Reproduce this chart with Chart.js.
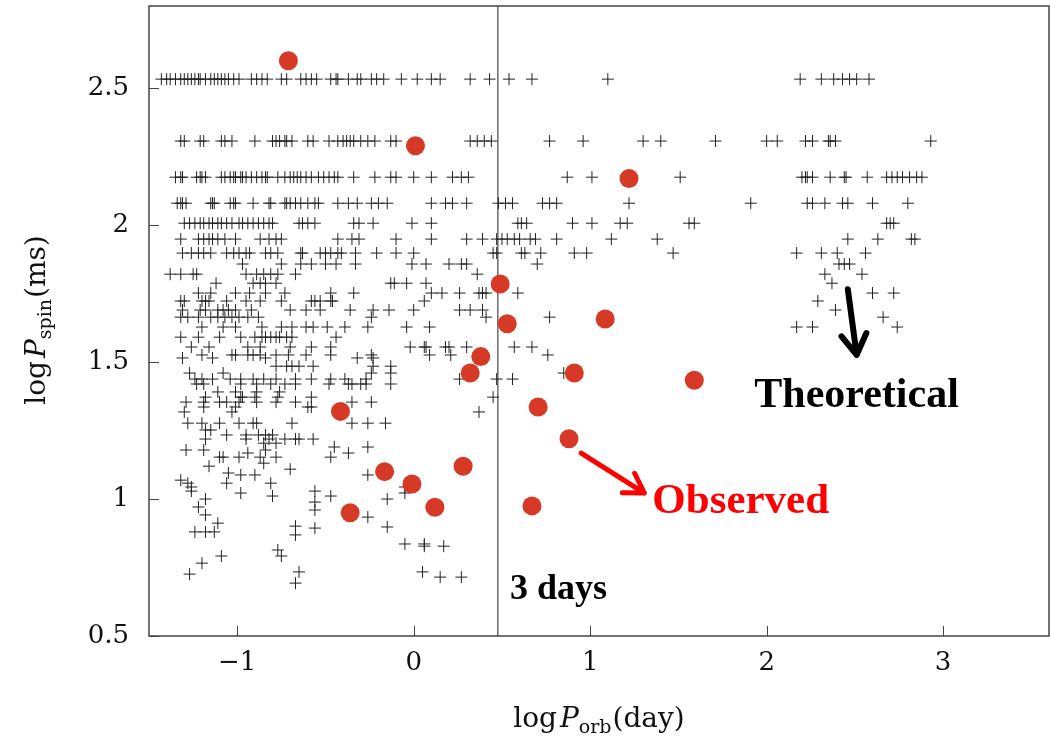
<!DOCTYPE html>
<html>
<head>
<meta charset="utf-8">
<script src="https://cdn.jsdelivr.net/npm/chart.js@4.4.0/dist/chart.umd.min.js"></script>
<style>
  html, body { margin: 0; padding: 0; background: #fff; }
  canvas { display: block; }
</style>
</head>
<body>
<canvas id="chart" width="1051" height="738"></canvas>
<script>
// x = log P_orb (day), y = log P_spin (ms)
const xTicks = [-1, 0, 1, 2, 3];
const yTicks = [0.5, 1, 1.5, 2, 2.5];
const threeDays = 0.477; // log10(3 days)

// Observed pulsars (red dots)
const obsX = [-0.71, 0.01, 1.22, 0.49, 0.53, 1.085, 0.38, 0.32, 0.91, 1.59, -0.415, 0.705, 0.88, 0.28, -0.165, -0.01, 0.12, -0.36, 0.67];
const obsY = [2.60, 2.29, 2.17, 1.785, 1.64, 1.657, 1.52, 1.46, 1.46, 1.434, 1.32, 1.336, 1.22, 1.12, 1.10, 1.055, 0.97, 0.95, 0.975];

// Theoretical population (crosses), grouped by log P_spin level
const theoLevels = [
  2.533, 2.307, 2.175, 2.080, 2.007, 1.949, 1.898, 1.858, 1.821, 1.788,
  1.752, 1.723, 1.690, 1.664, 1.628, 1.591, 1.555, 1.526, 1.515, 1.485,
  1.460, 1.438, 1.420, 1.391, 1.372, 1.354, 1.336, 1.318, 1.277, 1.252,
  1.234, 1.219, 1.204, 1.190, 1.179, 1.168, 1.153, 1.131, 1.120, 1.109,
  1.095, 1.088, 1.069, 1.058, 1.044, 1.029, 1.022, 1.011, 1.000, 0.989,
  0.971, 0.960, 0.942, 0.934, 0.912, 0.901, 0.898, 0.894, 0.880, 0.869,
  0.836, 0.828, 0.814, 0.792, 0.766, 0.734, 0.726, 0.715, 0.693
];
const theoRows = [
  [-1.43,-1.40,-1.38,-1.35,-1.32,-1.30,-1.28,-1.26,-1.24,-1.22,-1.21,-1.18,-1.15,-1.13,-1.11,-1.09,-1.07,-1.05,-1.02,-0.99,-0.92,-0.89,-0.86,-0.83,-0.75,-0.72,-0.64,-0.61,-0.58,-0.55,-0.47,-0.44,-0.43,-0.37,-0.32,-0.30,-0.24,-0.21,-0.17,-0.07,0.02,0.10,0.15,0.32,0.43,0.54,0.67,1.10,2.19,2.31,2.38,2.43,2.47,2.51,2.58],
  [-1.32,-1.30,-1.21,-1.19,-1.09,-1.07,-1.03,-0.90,-0.80,-0.78,-0.76,-0.73,-0.72,-0.69,-0.60,-0.57,-0.48,-0.43,-0.40,-0.38,-0.36,-0.34,-0.30,-0.26,-0.22,-0.13,-0.10,0.32,0.36,0.40,0.44,0.77,0.96,1.30,1.40,1.71,2.00,2.06,2.22,2.26,2.35,2.36,2.39,2.93],
  [-1.35,-1.32,-1.31,-1.23,-1.21,-1.20,-1.18,-1.09,-1.07,-1.04,-1.02,-1.01,-0.98,-0.97,-0.95,-0.92,-0.89,-0.86,-0.84,-0.83,-0.77,-0.73,-0.70,-0.68,-0.66,-0.64,-0.61,-0.58,-0.54,-0.51,-0.48,-0.45,-0.43,-0.34,-0.22,-0.13,-0.10,0.00,0.10,0.22,0.27,0.31,0.87,1.01,1.51,2.20,2.22,2.23,2.26,2.36,2.44,2.45,2.57,2.68,2.71,2.74,2.77,2.81,2.85,2.88],
  [-1.34,-1.32,-1.31,-1.29,-1.15,-1.14,-1.13,-1.04,-1.02,-1.01,-0.91,-0.82,-0.81,-0.73,-0.72,-0.70,-0.67,-0.64,-0.60,-0.56,-0.54,-0.43,-0.37,-0.32,-0.24,-0.20,-0.15,0.10,0.18,0.22,0.30,0.48,0.52,0.56,0.73,0.77,0.81,1.22,1.91,2.23,2.26,2.33,2.43,2.46,2.60,2.80],
  [-1.30,-1.27,-1.24,-1.21,-1.19,-1.16,-1.14,-1.11,-1.09,-1.06,-1.03,-0.99,-0.97,-0.94,-0.91,-0.88,-0.85,-0.82,-0.80,-0.65,-0.63,-0.60,-0.56,-0.34,-0.31,-0.23,-0.01,0.10,0.59,0.61,0.64,0.90,1.01,1.17,1.21,1.56,1.59,2.68,2.70,2.72],
  [-1.32,-1.22,-1.19,-1.16,-1.14,-1.11,-1.07,-1.01,-0.87,-0.82,-0.78,-0.75,-0.43,-0.35,-0.31,-0.10,0.10,0.30,0.39,0.47,0.50,0.53,0.57,0.60,0.66,0.69,0.81,1.12,1.38,2.46,2.63,2.82,2.84],
  [-1.31,-1.26,-1.22,-1.19,-1.15,-1.06,-1.02,-0.99,-0.95,-0.93,-0.84,-0.81,-0.77,-0.64,-0.63,-0.53,-0.50,-0.47,-0.43,-0.41,-0.33,-0.21,-0.10,0.00,0.45,0.47,0.61,0.63,0.72,0.91,0.98,1.47,2.17,2.31,2.40,2.56],
  [-0.97,-0.75,-0.64,-0.58,-0.50,-0.44,-0.33,-0.01,0.07,0.20,0.27,0.30,0.70,2.41,2.44,2.47],
  [-1.38,-1.32,-1.25,-1.23,-0.95,-0.89,-0.85,-0.81,-0.77,-0.67,0.36,2.33,2.54],
  [-1.12,-0.91,-0.87,-0.84,-0.78,-0.13,-0.11,-0.04,0.07,2.37],
  [-1.22,-1.15,-1.01,-0.93,-0.84,-0.73,-0.47,-0.34,0.10,0.16,0.26,0.37,0.39,0.41,0.59,2.60,2.72],
  [-1.32,-1.30,-1.20,-1.18,-1.16,-1.06,-0.95,-0.87,-0.75,-0.58,-0.56,-0.53,-0.47,-0.46,0.06,2.29],
  [-1.31,-1.21,-1.18,-1.11,-1.08,-1.05,-1.01,-0.92,-0.70,-0.61,-0.53,-0.36,-0.23,-0.14,0.00,0.26,0.32,0.39,2.39],
  [-1.32,-1.28,-1.22,-1.15,-1.11,-1.07,-1.03,-0.99,-0.94,-0.88,-0.24,0.41,0.77,2.66],
  [-1.20,-1.08,-1.01,-0.86,-0.75,-0.69,-0.61,-0.57,-0.49,-0.39,-0.26,-0.04,0.09,2.17,2.26,2.74],
  [-1.32,-1.22,-1.10,-0.98,-0.90,-0.86,-0.84,-0.81,-0.78,-0.76,-0.72,-0.69,-0.44],
  [-1.26,-1.16,-0.94,-0.87,-0.70,-0.58,-0.47,-0.02,0.06,0.07,0.18,0.20,0.30,0.57,0.67],
  [-1.20,-1.03,-1.01,-0.94,-0.91,-0.87,-0.78,-0.71,-0.61,-0.47,-0.24,0.09,0.21,0.76],
  [-1.31,-1.14,-0.84,-0.32,-0.23],
  [-0.78,-0.72,-0.69,-0.65,-0.57,-0.23,-0.13],
  [-1.27,-1.08,-0.24,-0.13,0.85],
  [-1.24,-1.20,-1.14,-1.04,-0.98,-0.91,-0.85,-0.78,-0.67,-0.58,-0.47,-0.39,-0.27,0.26,0.47,0.56],
  [-1.23,-1.19,-0.98,-0.89,-0.81,-0.73,-0.67,-0.48,-0.37,-0.35,-0.30,-0.27,-0.13],
  [-1.11,-1.01,-0.89,-0.76],
  [-1.18,-0.98,-0.97,-0.90,-0.77,-0.58,0.45],
  [-1.29,-1.19,-1.10,-1.06,-0.99,-0.89,-0.78,-0.67,-0.35,-0.24],
  [-1.19,-1.01,-0.60,-0.58],
  [-1.30,-1.03,0.37],
  [-1.28,-1.20,-1.10,-0.99,-0.91,-0.89,-0.69,-0.35,-0.26,-0.16],
  [-1.18,-1.15],
  [-1.06,-0.95,-0.88,-0.84,-0.80],
  [-1.18,-0.95,-0.82,-0.73,-0.67,-0.65,-0.57],
  [-0.85,-0.78],
  [-0.45,-0.26],
  [-1.29,-1.19,-0.84],
  [-0.94,-0.37],
  [-1.10,-1.08,-0.99,-0.87,-0.78,-0.47],
  [-0.85],
  [-1.16],
  [-0.70],
  [-1.05],
  [-0.98,-0.90,-0.26],
  [-1.32],
  [-1.28,-1.06,-0.81],
  [-1.26,-0.05],
  [-1.26,-0.56],
  [-0.98,-0.05],
  [-0.80,-0.47],
  [-1.18,-0.15],
  [-0.56],
  [-1.22],
  [-0.56],
  [-1.18],
  [-0.26],
  [-1.11],
  [-0.67],
  [-0.15],
  [-0.56],
  [-1.24,-1.18,-1.13],
  [-0.67],
  [-0.05,0.06],
  [0.06,0.17],
  [-0.77],
  [-1.09,-0.75],
  [-1.20],
  [-0.65,0.05],
  [-1.27],
  [0.15,0.27],
  [-0.67]
];

// Build point lists
const theoPoints = [];
theoLevels.forEach((y, i) => theoRows[i].forEach(x => theoPoints.push({ x, y })));
const obsPoints = obsX.map((x, i) => ({ x, y: obsY[i] }));

const serif = "'DejaVu Serif', serif";
const times = "'Liberation Serif', 'Times New Roman', serif";

// Draw a run of text pieces (normal / italic / subscript) centred on cx
function drawRich(ctx, parts, cx, baseY) {
  let w = 0;
  parts.forEach(p => { ctx.font = p.font; w += ctx.measureText(p.t).width + (p.gap || 0); });
  let px = cx - w / 2;
  parts.forEach(p => {
    ctx.font = p.font;
    ctx.fillText(p.t, px, baseY + (p.dy || 0));
    px += ctx.measureText(p.t).width + (p.gap || 0);
  });
}

function drawArrow(ctx, x0, y0, x1, y1, head, width, color) {
  const ang = Math.atan2(y1 - y0, x1 - x0);
  ctx.strokeStyle = color;
  ctx.lineWidth = width;
  ctx.lineCap = "round";
  ctx.lineJoin = "round";
  ctx.beginPath();
  ctx.moveTo(x0, y0);
  ctx.lineTo(x1, y1);
  ctx.moveTo(x1 - head * Math.cos(ang - 0.55), y1 - head * Math.sin(ang - 0.55));
  ctx.lineTo(x1, y1);
  ctx.lineTo(x1 - head * Math.cos(ang + 0.55), y1 - head * Math.sin(ang + 0.55));
  ctx.stroke();
}

// Frame, inward ticks, labels and arrows
const decorations = {
  id: "decorations",
  afterDraw(chart) {
    const { ctx, chartArea: a, scales: { x, y } } = chart;
    ctx.save();

    ctx.strokeStyle = "#444";
    ctx.lineWidth = 1.5;
    ctx.strokeRect(a.left, a.top, a.right - a.left, a.bottom - a.top);

    ctx.lineWidth = 1;
    ctx.beginPath();
    xTicks.forEach(v => {
      const px = Math.round(x.getPixelForValue(v)) + 0.5;
      ctx.moveTo(px, a.bottom); ctx.lineTo(px, a.bottom - 10);
    });
    yTicks.forEach(v => {
      const py = Math.round(y.getPixelForValue(v)) + 0.5;
      ctx.moveTo(a.left, py); ctx.lineTo(a.left + 10, py);
    });
    ctx.stroke();

    // axis titles
    ctx.fillStyle = "#111";
    ctx.textBaseline = "alphabetic";
    drawRich(ctx, [
      { t: "log", font: `28px ${serif}`, gap: 3 },
      { t: "P", font: `italic 28px ${serif}` },
      { t: "orb", font: `19px ${serif}`, dy: 6, gap: 1 },
      { t: "(day)", font: `28px ${serif}` }
    ], (a.left + a.right) / 2, 727);

    ctx.save();
    ctx.translate(45, 320);
    ctx.rotate(-Math.PI / 2);
    drawRich(ctx, [
      { t: "log", font: `28px ${serif}`, gap: 3 },
      { t: "P", font: `italic 28px ${serif}` },
      { t: "spin", font: `19px ${serif}`, dy: 6, gap: 1 },
      { t: "(ms)", font: `28px ${serif}` }
    ], 0, 0);
    ctx.restore();

    // annotations
    ctx.fillStyle = "#000";
    ctx.font = `bold 42px ${times}`;
    ctx.fillText("Theoretical", x.getPixelForValue(1.93), y.getPixelForValue(1.336));
    ctx.font = `bold 36px ${times}`;
    ctx.fillText("3 days", x.getPixelForValue(0.545), y.getPixelForValue(0.635));
    ctx.fillStyle = "#f00";
    ctx.font = `bold 43px ${times}`;
    ctx.fillText("Observed", x.getPixelForValue(1.352), y.getPixelForValue(0.949));

    drawArrow(ctx, x.getPixelForValue(2.46), y.getPixelForValue(1.766),
      x.getPixelForValue(2.51), y.getPixelForValue(1.526), 24, 6, "#000");
    drawArrow(ctx, x.getPixelForValue(0.949), y.getPixelForValue(1.168),
      x.getPixelForValue(1.307), y.getPixelForValue(1.022), 22, 5, "#f00");

    ctx.restore();
  }
};

new Chart(document.getElementById("chart"), {
  type: "scatter",
  data: {
    datasets: [
      {
        label: "Observed",
        data: obsPoints,
        pointStyle: "circle",
        pointRadius: 9.5,
        backgroundColor: "#d63a27",
        borderWidth: 0,
        order: 0
      },
      {
        label: "3 days",
        data: [{ x: threeDays, y: 0.5 }, { x: threeDays, y: 2.8 }],
        showLine: true,
        borderColor: "#222",
        borderWidth: 1,
        pointRadius: 0,
        order: 1
      },
      {
        label: "Theoretical",
        data: theoPoints,
        pointStyle: "cross",
        pointRadius: 6,
        borderColor: "#222",
        borderWidth: 1,
        order: 2
      }
    ]
  },
  options: {
    responsive: false,
    animation: false,
    layout: { autoPadding: false, padding: { top: 6, right: 2, left: 0, bottom: 0 } },
    plugins: {
      legend: { display: false },
      tooltip: { enabled: false }
    },
    scales: {
      x: {
        type: "linear",
        min: -1.5,
        max: 3.6,
        grid: { display: false, drawTicks: false },
        border: { display: false },
        afterBuildTicks: s => { s.ticks = xTicks.map(v => ({ value: v })); },
        afterFit: s => { s.height = 102; s.paddingLeft = 0; s.paddingRight = 0; },
        ticks: {
          padding: 12,
          color: "#111",
          font: { family: "DejaVu Serif", size: 26 },
          callback: v => (v < 0 ? "\u2212" + Math.abs(v) : String(v))
        }
      },
      y: {
        type: "linear",
        min: 0.5,
        max: 2.8,
        grid: { display: false, drawTicks: false },
        border: { display: false },
        afterBuildTicks: s => { s.ticks = yTicks.map(v => ({ value: v })); },
        afterFit: s => { s.width = 149; s.paddingTop = 0; s.paddingBottom = 0; },
        ticks: {
          padding: 20,
          color: "#111",
          font: { family: "DejaVu Serif", size: 26 },
          callback: v => String(v)
        }
      }
    }
  },
  plugins: [decorations]
});
</script>
</body>
</html>
